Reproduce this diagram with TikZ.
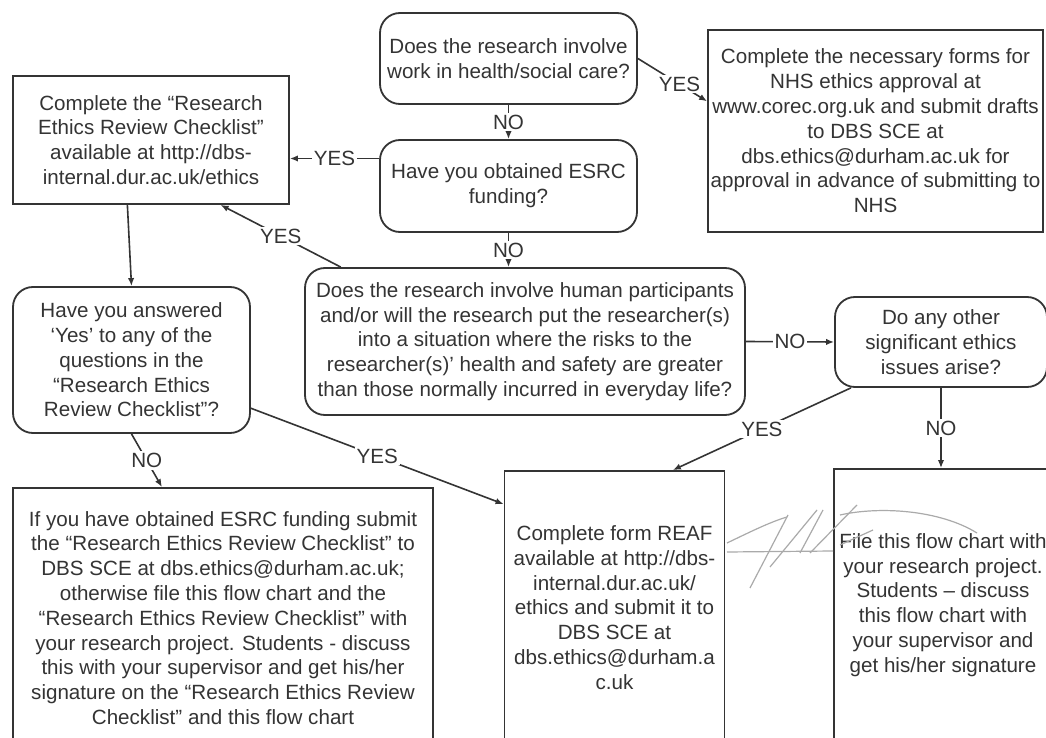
\documentclass[tikz,border=0pt]{standalone}
\usepackage{fontspec}
\setmainfont{Liberation Sans}
\usetikzlibrary{arrows.meta}
\definecolor{cink}{RGB}{52,52,52}
\definecolor{csig}{RGB}{170,170,170}

\begin{document}
\begin{tikzpicture}[x=0.5pt, y=-0.5pt,
  every node/.style={font=\fontsize{10.3pt}{12.4pt}\selectfont, text=cink},
  qbox/.style={draw=cink, line width=0.9pt, rounded corners=10pt,
    align=center, inner sep=0pt},
  abox/.style={draw=cink, line width=0.9pt, align=center, inner sep=0pt},
  link/.style={draw=cink, line width=0.8pt, -{Latex[length=4pt,width=3.2pt]}},
  ans/.style={fill=white, inner sep=1pt},
  sig/.style={draw=csig, line width=0.6pt}]
\useasboundingbox (0,0) rectangle (1046,738);
\clip (0,0) rectangle (1046,738);
\fill[white] (0,0) rectangle (1046,738);
% questions
\node[qbox, minimum width=128.5pt, minimum height=45.5pt] (health) at (508.5,58.5)
  {Does the research involve\\work in health/social care?};
\node[qbox, minimum width=128.5pt, minimum height=46pt] (esrc) at (508.5,186)
  {Have you obtained ESRC\\funding?};
\node[qbox, minimum width=220pt, minimum height=73.5pt] (human) at (525,341.5)
  {Does the research involve human participants\\and/or will the research put the researcher(s)\\into a situation where the risks to the\\researcher(s)’ health and safety are greater\\than those normally incurred in everyday life?};
\node[qbox, minimum width=118.5pt, minimum height=73pt] (answered) at (131.5,360)
  {Have you answered\\‘Yes’ to any of the\\questions in the\\“Research Ethics\\Review Checklist”?};
\node[qbox, minimum width=106pt, minimum height=45pt] (other) at (941,342)
  {Do any other\\significant ethics\\issues arise?};
% actions
\node[abox, minimum width=167.5pt, minimum height=101pt] (nhs) at (875.5,131)
  {Complete the necessary forms for\\NHS ethics approval at\\www.corec.org.uk and submit drafts\\to DBS SCE at\\dbs.ethics@durham.ac.uk for\\approval in advance of submitting to\\NHS};
\node[abox, minimum width=138pt, minimum height=64pt] (checklist) at (151,140)
  {Complete the “Research\\Ethics Review Checklist”\\available at http://dbs-\\internal.dur.ac.uk/ethics};
\node[abox, minimum width=210pt, minimum height=130pt] (fundbox) at (223,618)
  {If you have obtained ESRC funding submit\\the “Research Ethics Review Checklist” to\\DBS SCE at dbs.ethics@durham.ac.uk;\\otherwise file this flow chart and the\\“Research Ethics Review Checklist” with\\your research project. Students - discuss\\this with your supervisor and get his/her\\signature on the “Research Ethics Review\\Checklist” and this flow chart};
\node[abox, minimum width=110pt, minimum height=136.5pt] (reaf) at (614.5,607.5)
  {Complete form REAF\\available at http://dbs-\\internal.dur.ac.uk/\\ethics and submit it to\\DBS SCE at\\dbs.ethics@durham.a\\c.uk};
\node[abox, minimum width=109pt, minimum height=136pt] (filebox) at (943,605)
  {File this flow chart with\\your research project.\\Students – discuss\\this flow chart with\\your supervisor and\\get his/her signature};
% answers
\draw[link] (health) -- node[ans]{NO} (esrc);
\draw[link] (health.east) -- node[ans, pos=0.6]{YES} (nhs.170);
\draw[link] (esrc.168) -- node[ans]{YES} (esrc.168 -| checklist.east);
\draw[link] (esrc.south) -- node[ans]{NO} (esrc.south |- human.north);
\draw[link] (human.158) -- node[ans]{YES} (checklist.-43);
\draw[link] (checklist.250) -- (answered.north);
\draw[link] (answered.south) -- node[ans]{NO} (fundbox.115);
\draw[link] (answered.-22) -- node[ans]{YES} (reaf.137);
\draw[link] (human.east) -- node[ans]{NO} (other.west);
\draw[link] (other.-153) -- node[ans]{YES} (reaf.67.5);
\draw[link] (other.south) -- node[ans]{NO} (other.south |- filebox.north);
% signature
\draw[sig] (727,543) .. controls (750,532) and (770,522) .. (787,517);
\draw[sig] (727,552) -- (833,551);
\draw[sig] (750,588) -- (788,515);
\draw[sig] (770,567) -- (817,510);
\draw[sig] (800,553) -- (823,510);
\draw[sig] (810,553) -- (857,505);
\draw[sig] (840,515) .. controls (880,506) and (940,510) .. (977,533);
\draw[sig] (840,545) -- (873,530);
\end{tikzpicture}
\end{document}
